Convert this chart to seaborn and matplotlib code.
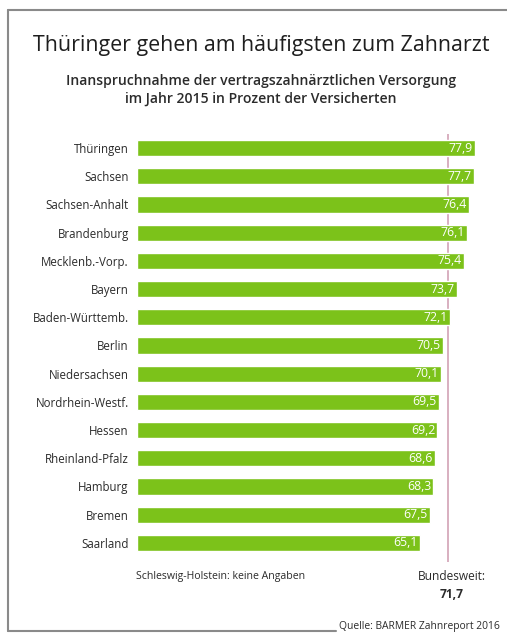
"""
Zahnarztbesuche nach Bundesland (BARMER Zahnreport)
horizontal bar chart
"""

import matplotlib
matplotlib.use("Agg")
import matplotlib.pyplot as plt
import seaborn as sns
import pandas as pd

# Data
laender = [
    "Thüringen",
    "Sachsen",
    "Sachsen-Anhalt",
    "Brandenburg",
    "Mecklenb.-Vorp.",
    "Bayern",
    "Baden-Württemb.",
    "Berlin",
    "Niedersachsen",
    "Nordrhein-Westf.",
    "Hessen",
    "Rheinland-Pfalz",
    "Hamburg",
    "Bremen",
    "Saarland",
]
anteil = [77.9, 77.7, 76.4, 76.1, 75.4, 73.7, 72.1, 70.5, 70.1, 69.5, 69.2, 68.6, 68.3, 67.5, 65.1]
bundesweit = 71.7

df = pd.DataFrame({"land": laender, "anteil": anteil})

GREEN = "#7cc21a"
TEXT = "#2b2b2b"
FRAME = "#8a8a8a"

sns.set_style("white")
plt.rcParams["font.family"] = ["Open Sans", "DejaVu Sans"]

W, H = 507, 633
fig = plt.figure(figsize=(W / 100, H / 100), dpi=100)


def fx(px):
    return px / W


def fy(py):
    return 1 - py / H


# axes: x=0 at px 137, 4.34 px per unit; rows 28.2 px apart
ax_left, ax_right = 137, 137 + 80 * 4.34
ax_top, ax_bot = 134, 562
ax = fig.add_axes([fx(ax_left), fy(ax_bot), fx(ax_right - ax_left), (ax_bot - ax_top) / H])

sns.barplot(data=df, x="anteil", y="land", color=GREEN, width=0.58, saturation=1, ax=ax)
ax.set_xlim(0, 80)
ax.set_ylim(-0.5 + (ax_bot - ax_top) / 28.2, -0.5)

ax.axvline(bundesweit, color="#d6a9bb", lw=1.3, zorder=0)

for i, v in enumerate(anteil):
    ax.text(v - 0.5, i, f"{v:.1f}".replace(".", ","), color="white",
            ha="right", va="center", fontsize=8.8, fontweight="medium")

ax.set_xlabel("")
ax.set_ylabel("")
ax.set_xticks([])
ax.tick_params(axis="y", length=0, pad=6, labelsize=8.3, labelcolor=TEXT)
sns.despine(ax=ax, left=True, bottom=True)

# titles
fig.text(fx(261), fy(46), "Thüringer gehen am häufigsten zum Zahnarzt",
         ha="center", va="center", fontsize=15.4, fontweight="medium", color="#1e1e1e")
fig.text(fx(261), fy(81), "Inanspruchnahme der vertragszahnärztlichen Versorgung",
         ha="center", va="center", fontsize=10.1, fontweight="semibold", color=TEXT)
fig.text(fx(261), fy(99), "im Jahr 2015 in Prozent der Versicherten",
         ha="center", va="center", fontsize=10.1, fontweight="semibold", color=TEXT)

# notes
fig.text(fx(136), fy(577), "Schleswig-Holstein: keine Angaben",
         ha="left", va="center", fontsize=7.6, color=TEXT)
fig.text(fx(452), fy(577), "Bundesweit:", ha="center", va="center",
         fontsize=8.6, color=TEXT)
fig.text(fx(452), fy(594), "71,7", ha="center", va="center",
         fontsize=8.6, fontweight="bold", color=TEXT)
fig.text(fx(339), fy(626), "Quelle: BARMER Zahnreport 2016", ha="left", va="center",
         fontsize=7.4, color=TEXT)

# frame
fig.add_artist(plt.Line2D([fx(8), fx(8)], [fy(10), fy(631)], color=FRAME, lw=1.5))
fig.add_artist(plt.Line2D([fx(8), 1], [fy(10), fy(10)], color=FRAME, lw=1.5))
fig.add_artist(plt.Line2D([fx(8), fx(336)], [fy(631), fy(631)], color=FRAME, lw=1.5))

fig.savefig("out.png", dpi=100)
